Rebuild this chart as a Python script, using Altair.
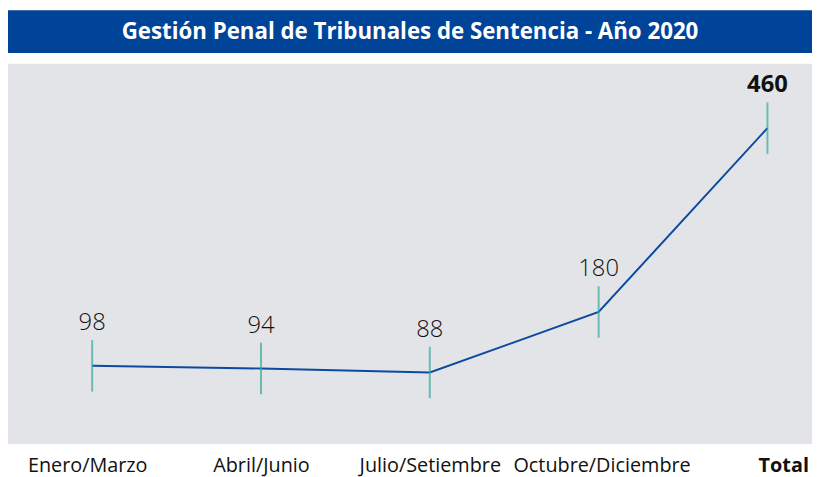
import altair as alt
import pandas as pd

periods = ["Enero/Marzo", "Abril/Junio", "Julio/Setiembre", "Octubre/Diciembre", "Total"]
values = [98, 94, 88, 180, 460]
title_text = "Gestión Penal de Tribunales de Sentencia - Año 2020"

df = pd.DataFrame({"periodo": periods, "valor": values})

W = 812
FONT = "Open Sans"

x = alt.X(
    "periodo:N",
    sort=periods,
    scale=alt.Scale(type="point", range=[85, 767], padding=0),
    axis=alt.Axis(
        title=None,
        domain=False,
        ticks=False,
        grid=False,
        labelAngle=0,
        labelFont=FONT,
        labelFontSize=20,
        labelColor="#111111",
        labelPadding=12,
        labelFontWeight=alt.ExprRef(expr="datum.value == 'Total' ? 'bold' : 'normal'"),
        labelOffset=alt.ExprRef(expr="datum.value == 'Total' ? 16 : (datum.value == 'Enero/Marzo' ? -5 : (datum.value == 'Octubre/Diciembre' ? 3 : 0))"),
    ),
)
y = alt.Y("valor:Q", scale=alt.Scale(domain=[-21, 558]), axis=None)

base = alt.Chart(df)
line = base.mark_line(color="#0b4a9e", strokeWidth=2).encode(x=x, y=y)
ticks = base.mark_tick(orient="vertical", color="#35a99b", size=52, thickness=2).encode(x=x, y=y)
labels = base.transform_filter("datum.periodo != 'Total'").mark_text(
    dy=-31, baseline="bottom", fontSize=24, font=FONT, fontWeight=300, color="#111111"
).encode(x=x, y=y, text="valor:Q")
label_total = base.transform_filter("datum.periodo == 'Total'").mark_text(
    dy=-31, baseline="bottom", fontSize=24, font=FONT, fontWeight="bold", color="#111111"
).encode(x=x, y=y, text="valor:Q")

main = alt.layer(line, ticks, labels, label_total).properties(
    width=W, height=384,
    view=alt.ViewBackground(fill="#e3e4e8", strokeWidth=0),
)

header = alt.Chart(pd.DataFrame({"t": [title_text]})).mark_text(
    color="white", fontSize=22.5, font=FONT, fontWeight="bold"
).encode(text="t:N", x=alt.value(W / 2), y=alt.value(22)).properties(
    width=W, height=43,
    view=alt.ViewBackground(fill="#00449a", strokeWidth=0),
)

chart = alt.vconcat(header, main, spacing=11).properties(padding=0, background="white")

chart.save("out.html", embed_options={"renderer": "svg", "actions": False})
